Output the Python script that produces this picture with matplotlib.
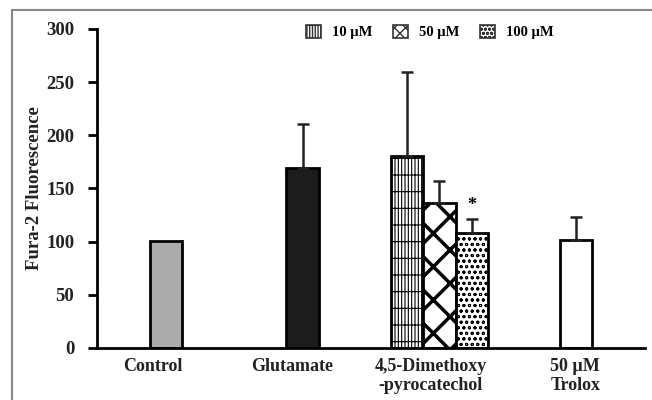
import numpy as np
import matplotlib
matplotlib.use("Agg")
import matplotlib.pyplot as plt
from matplotlib.patches import Rectangle
from matplotlib.transforms import ScaledTranslation

# data
groups = ["Control", "Glutamate", "4,5-Dimethoxy\n-pyrocatechol", "50 µM\nTrolox"]
single_vals = [101, 169, None, 102]
single_errs = [0, 42, None, 21]
doses = ["10 µM", "50 µM", "100 µM"]
dose_vals = [181, 136, 108]
dose_errs = [79, 21, 13]
yticks = [0, 50, 100, 150, 200, 250, 300]

plt.rcParams["font.family"] = ["Liberation Serif", "DejaVu Serif"]
plt.rcParams["font.weight"] = "bold"

fig = plt.figure(figsize=(6.52, 4.0), dpi=100)
ax = fig.add_axes([0.149, 0.13, 0.84, 0.7975])

w = 0.235
single_colors = ["#ababab", "#1c1c1c", None, "white"]
for i, (v, e, c) in enumerate(zip(single_vals, single_errs, single_colors)):
    if v is None:
        continue
    ax.bar(i, v, width=w, color=c, edgecolor="black", linewidth=2, zorder=2)
    if e:
        ax.errorbar(i, v, yerr=[[0], [e]], fmt="none", ecolor="#222222",
                    elinewidth=1.8, capsize=4, capthick=1.8, zorder=3)

# dose group
hatches = ["|||||-", "x", "ooo"]
legend_hatches = ["|||||+", "xxx", "oooo"]
hatch_lw = [0.8, 2.5, 0.7]
offsets = [-w, 0, w]
handles = []
for k in range(3):
    with plt.rc_context({"hatch.linewidth": hatch_lw[k]}):
        b = ax.bar(2 + offsets[k], dose_vals[k], width=w, color="white",
                   edgecolor="black", linewidth=2, hatch=hatches[k], zorder=2)
        proxy = Rectangle((0, 0), 1, 1, facecolor="white", edgecolor="#333333",
                          linewidth=1.2, hatch=legend_hatches[k])
    try:
        proxy.set_hatch_linewidth(min(hatch_lw[k], 1.2))
        for p in b.patches:
            p.set_hatch_linewidth(hatch_lw[k])
    except AttributeError:
        pass
    handles.append(proxy)
    ax.errorbar(2 + offsets[k], dose_vals[k], yerr=[[0], [dose_errs[k]]],
                fmt="none", ecolor="#222222", elinewidth=1.8, capsize=4,
                capthick=1.8, zorder=3)

ax.text(2 + offsets[2], dose_vals[2] + dose_errs[2] + 5, "*",
        ha="center", va="bottom", fontsize=13)

ax.set_xlim(-0.5, 3.5)
ax.set_ylim(0, 300)
ax.set_yticks(yticks)
ax.set_xticks(range(len(groups)))
ax.set_xticklabels(groups, fontsize=13, fontweight="bold", color="#222222",
                   linespacing=1.2)
ax.tick_params(axis="x", length=0, pad=7)
# labels in the original sit a little left of the bar centres
label_shift_px = [-13, -10, -9, -1]
for lbl, dx in zip(ax.get_xticklabels(), label_shift_px):
    lbl.set_transform(lbl.get_transform() + ScaledTranslation(dx / 100, 0, fig.dpi_scale_trans))
ax.tick_params(axis="y", direction="out", length=6.5, width=2, labelsize=13.5,
               labelcolor="#222222", pad=10)
for lbl in ax.get_yticklabels():
    lbl.set_fontweight("bold")
ax.set_ylabel("Fura-2 Fluorescence", fontsize=13.5, fontweight="bold",
              color="#222222", labelpad=2)
for s in ["top", "right"]:
    ax.spines[s].set_visible(False)
ax.spines["left"].set_linewidth(2)
ax.spines["bottom"].set_linewidth(2)

leg = ax.legend(handles, doses, loc="upper center", bbox_to_anchor=(0.607, 1.055),
                ncol=3, frameon=False, fontsize=10.5, handlelength=1.05,
                handleheight=1.05, columnspacing=1.4, handletextpad=0.75)
for t in leg.get_texts():
    t.set_fontweight("bold")

# grey frame around the figure
fig.patches.append(Rectangle((0.018, -0.02), 1.0, 0.995, transform=fig.transFigure,
                             fill=False, edgecolor="#888888", linewidth=1.5))

fig.savefig("out.png", dpi=100)
